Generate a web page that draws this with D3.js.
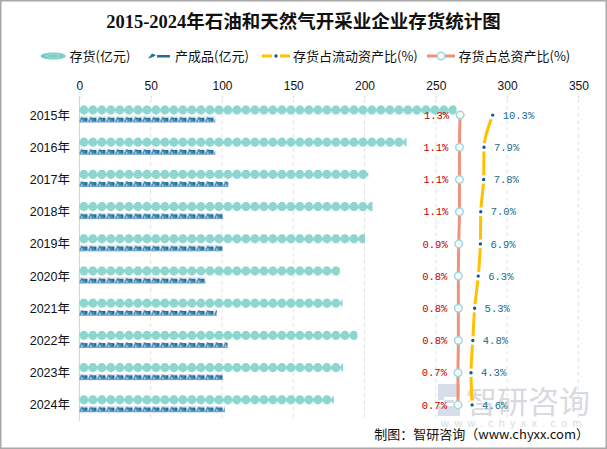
<!DOCTYPE html>
<html><head><meta charset="utf-8">
<script src="https://cdn.jsdelivr.net/npm/d3@7/dist/d3.min.js"></script>
<style>body{margin:0;background:#fff}svg{display:block}</style>
</head><body>
<svg id="c" width="607" height="449"></svg>
<script>
const years = ["2015年","2016年","2017年","2018年","2019年","2020年","2021年","2022年","2023年","2024年"];
const inventory = [264.6, 229.5, 202.6, 205.6, 200.3, 182.7, 184.6, 195.0, 185.0, 178.5];
const finished = [95.3, 95.3, 104.4, 100.9, 100.4, 88.5, 96.5, 104.0, 100.8, 102.0];
const currentRatio = [10.3, 7.9, 7.8, 7.0, 6.9, 6.3, 5.3, 4.8, 4.3, 4.6];
const totalRatio = [1.3, 1.1, 1.1, 1.1, 0.9, 0.8, 0.8, 0.8, 0.7, 0.7];
const xTicks = [0, 50, 100, 150, 200, 250, 300, 350];
const legendNames = ["存货(亿元)", "产成品(亿元)", "存货占流动资产比(%)", "存货占总资产比(%)"];
const title = "2015-2024年石油和天然气开采业企业存货统计图";

const svg = d3.select("#c");
const W = 607, H = 449;
const x = d3.scaleLinear().domain([0, 350]).range([79.4, 578.4]);
const x2 = d3.scaleLinear().domain([-104, 34]).range([79.4, 578.4]);
const y = d3.scaleBand().domain(years).range([99, 421]);
const cy = d => y(d) + y.bandwidth() / 2;

const defs = svg.append("defs");
const pInv = defs.append("pattern").attr("id", "pInv").attr("patternUnits", "userSpaceOnUse")
  .attr("width", 9).attr("height", 9);
pInv.append("circle").attr("cx", 4.5).attr("cy", 4.5).attr("r", 4.4).attr("fill", "#74ccc3");
pInv.append("circle").attr("cx", 4.5).attr("cy", 4.5).attr("r", 2.6).attr("fill", "none").attr("stroke", "#b2e4de").attr("stroke-width", 0.9);
pInv.append("circle").attr("cx", 4.5).attr("cy", 4.5).attr("r", 0.9).attr("fill", "#b2e4de");
const pFin = defs.append("pattern").attr("id", "pFin").attr("patternUnits", "userSpaceOnUse")
  .attr("width", 9).attr("height", 6);
pFin.append("path").attr("d", "M0.6,5 L2.6,0.4").attr("stroke", "#1f6d9c").attr("stroke-width", 1.5).attr("fill", "none");
pFin.append("rect").attr("x", 3.0).attr("y", 1.0).attr("width", 5.2).attr("height", 3.8).attr("fill", "#1f6d9c");
pFin.append("rect").attr("x", 4.4).attr("y", 1.9).attr("width", 0.8).attr("height", 2.2).attr("fill", "#8cc0dc");
pFin.append("rect").attr("x", 0).attr("y", 4.8).attr("width", 9).attr("height", 1.1).attr("fill", "#5c9cc6");

svg.append("rect").attr("x", 0.75).attr("y", 0.75).attr("width", W - 1.5).attr("height", H - 1.5)
  .attr("fill", "none").attr("stroke", "#a8a8a8").attr("stroke-width", 1.5);

svg.append("text").attr("x", 303.5).attr("y", 28).attr("text-anchor", "middle")
  .attr("font-family", "'Liberation Serif','Noto Sans CJK SC'").attr("font-weight", "bold")
  .attr("font-size", 18.5).attr("fill", "#111").text(title);

// watermark
const wm = svg.append("g").attr("opacity", 0.55);
wm.append("path").attr("d", "M438,384 h22 v13 h-16 v6 h16 v13 h-22 v-10 h16 v-6 h-16 z").attr("fill", "#b8c4d8");
wm.append("text").attr("x", 466).attr("y", 413).attr("font-family", "'Noto Sans CJK SC'")
  .attr("font-size", 31).attr("fill", "#b9bdc6").text("智研咨询");
wm.append("text").attr("x", 441).attr("y", 427).attr("font-family", "'Liberation Sans'")
  .attr("font-size", 11).attr("letter-spacing", 5.2).attr("fill", "#b9bdc6").text("www.chyxx.com");

svg.append("g").selectAll("line").data(xTicks.slice(1)).join("line")
  .attr("x1", d => x(d)).attr("x2", d => x(d)).attr("y1", 99).attr("y2", 421)
  .attr("stroke", "#e4e4e4").attr("stroke-dasharray", "4,3");
svg.append("line").attr("x1", x(0)).attr("x2", x(0)).attr("y1", 97).attr("y2", 421)
  .attr("stroke", "#d2d2d2");

const ax = svg.append("g").attr("transform", "translate(0,98)")
  .call(d3.axisTop(x).tickValues(xTicks).tickSize(2).tickPadding(6));
ax.select(".domain").remove();
ax.selectAll(".tick line").attr("stroke", "#d0d0d0");
ax.selectAll("text").attr("font-family", "'Liberation Sans'").attr("font-size", 12).attr("fill", "#111");

svg.append("g").selectAll("text").data(years).join("text")
  .attr("x", 70).attr("y", d => cy(d)).attr("dy", "0.36em").attr("text-anchor", "end")
  .attr("font-family", "'Liberation Sans','Noto Sans CJK SC'").attr("font-size", 12.5).attr("fill", "#111")
  .text(d => d);

const rows = svg.append("g").selectAll("g").data(years).join("g");
rows.append("g").attr("transform", d => `translate(${x(0)},${cy(d) - 9.6})`)
  .append("rect").attr("width", (d, i) => x(inventory[i]) - x(0)).attr("height", 9).attr("fill", "url(#pInv)");
rows.append("g").attr("transform", d => `translate(${x(0)},${cy(d) + 1.6})`)
  .append("rect").attr("width", (d, i) => x(finished[i]) - x(0)).attr("height", 6).attr("fill", "url(#pFin)");

const line = d3.line().x(d => x2(d.v)).y(d => cy(d.y)).curve(d3.curveMonotoneY);
const totData = years.map((d, i) => ({ y: d, v: totalRatio[i] }));
const curData = years.map((d, i) => ({ y: d, v: currentRatio[i] }));
svg.append("path").attr("d", line(totData)).attr("fill", "none").attr("stroke", "#f0917b").attr("stroke-width", 3);
svg.append("path").attr("d", line(curData)).attr("fill", "none").attr("stroke", "#ffc000").attr("stroke-width", 3);

svg.append("g").selectAll("circle").data(totData).join("circle")
  .attr("cx", d => x2(d.v)).attr("cy", d => cy(d.y)).attr("r", 3.8)
  .attr("fill", "#fcfbe6").attr("stroke", "#9cd6ef").attr("stroke-width", 1.5);
svg.append("g").selectAll("circle").data(curData).join("circle")
  .attr("cx", d => x2(d.v)).attr("cy", d => cy(d.y)).attr("r", 3)
  .attr("fill", "#0f5d84").attr("stroke", "#fff").attr("stroke-width", 2.6);

svg.append("g").selectAll("text").data(totData).join("text")
  .attr("x", d => x2(d.v) - 11).attr("y", d => cy(d.y)).attr("dy", "0.36em").attr("text-anchor", "end")
  .attr("font-family", "'Liberation Mono'").attr("font-size", 10.5).attr("fill", "#c00000")
  .text(d => d.v.toFixed(1) + "%");
svg.append("g").selectAll("text").data(curData).join("text")
  .attr("x", d => x2(d.v) + 10).attr("y", d => cy(d.y)).attr("dy", "0.36em")
  .attr("font-family", "'Liberation Mono'").attr("font-size", 10.5).attr("fill", "#1b6a8c")
  .text(d => d.v.toFixed(1) + "%");

const lg = svg.append("g").attr("font-family", "'Noto Sans CJK SC'").attr("font-size", 13).attr("fill", "#111");
const ly = 56;
lg.append("ellipse").attr("cx", 53.2).attr("cy", ly).attr("rx", 12.5).attr("ry", 3.6).attr("fill", "#74ccc3");
lg.append("ellipse").attr("cx", 53.2).attr("cy", ly).attr("rx", 7).attr("ry", 1.8).attr("fill", "none").attr("stroke", "#b2e4de").attr("stroke-width", 0.8);
lg.append("path").attr("d", `M148,${ly + 2.5} L152,${ly - 2.5} L156,${ly - 1} L153,${ly + 1} z`).attr("fill", "#1f6d9c");
lg.append("rect").attr("x", 157).attr("y", ly - 1).attr("width", 13).attr("height", 2.5).attr("fill", "#1f6d9c");
lg.append("line").attr("x1", 262).attr("x2", 290).attr("y1", ly).attr("y2", ly).attr("stroke", "#ffc000").attr("stroke-width", 3);
lg.append("circle").attr("cx", 276).attr("cy", ly).attr("r", 3).attr("fill", "#0f5d84").attr("stroke", "#fff").attr("stroke-width", 2.6);
lg.append("line").attr("x1", 427).attr("x2", 455).attr("y1", ly).attr("y2", ly).attr("stroke", "#f0917b").attr("stroke-width", 3);
lg.append("circle").attr("cx", 441).attr("cy", ly).attr("r", 3.8).attr("fill", "#fcfbe6").attr("stroke", "#9cd6ef").attr("stroke-width", 1.5);
const lx = [69.5, 175, 293, 458.5];
lg.selectAll("text").data(legendNames).join("text")
  .attr("x", (d, i) => lx[i]).attr("y", ly).attr("dy", "0.36em").text(d => d);

svg.append("text").attr("x", 589).attr("y", 434).attr("dy", "0.36em").attr("text-anchor", "end")
  .attr("font-family", "'Noto Sans CJK SC'").attr("font-size", 13).attr("fill", "#111")
  .text("制图：智研咨询（www.chyxx.com）");
</script>
</body></html>
